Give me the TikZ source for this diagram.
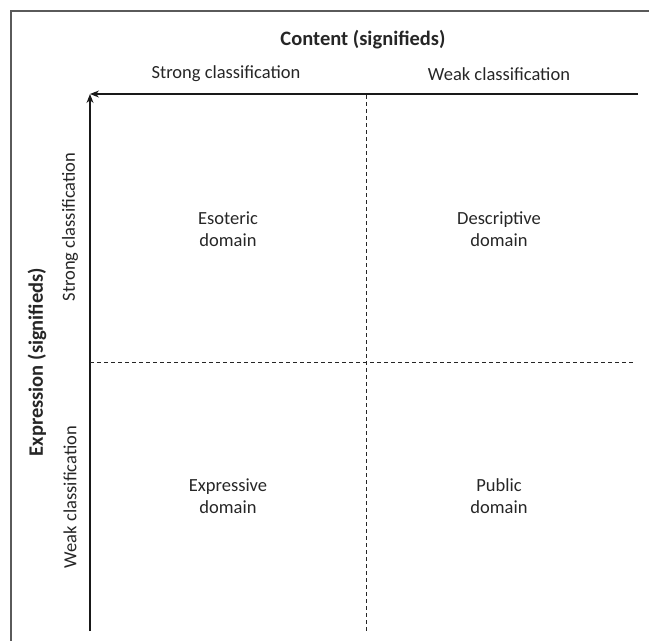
\documentclass[tikz,border=0pt]{standalone}
\usepackage{fontspec}
\setmainfont{Carlito}
\usetikzlibrary{arrows.meta}
\definecolor{txt}{HTML}{262626}
\definecolor{framegray}{HTML}{5A5A5A}
\tikzset{
  label/.style={text=txt, font=\fontsize{18.5}{21.5}\selectfont, align=center, inner sep=0pt},
  title/.style={label, font=\fontsize{20.5}{24}\selectfont\bfseries},
  axis/.style={line width=1.2pt, draw=black!90, -{Stealth[length=9pt,width=7pt]}},
  divider/.style={line width=0.9pt, draw=black!85, dash pattern=on 4pt off 3pt},
  frameline/.style={line width=1.4pt, draw=framegray}
}
\begin{document}
\begin{tikzpicture}[x=1pt, y=-1pt]
  \useasboundingbox (0,0) rectangle (649,641);
  % outer frame (top and left edges)
  \coordinate (fTL) at (11,11);
  \coordinate (fTR) at (649,11);
  \coordinate (fBL) at (11,641);
  \draw[frameline] (fTR) -- (fTL) -- (fBL);

  % axes
  \coordinate (origin) at (90,94);
  \coordinate (xend) at (638,94);
  \coordinate (yend) at (90,631);
  \draw[axis] (xend) -- (origin);
  \draw[axis] (yend) -- (origin);

  % quadrant dividers
  \coordinate (vTop) at (366,95);
  \coordinate (vBot) at (366,631);
  \coordinate (hLeft) at (90,362);
  \coordinate (hRight) at (634,362);
  \draw[divider] (vTop) -- (vBot);
  \draw[divider] (hLeft) -- (hRight);

  % column headings
  \node[title] (content) at (363,40) {Content (signifieds)};
  \node[label] (cstrong) at (226,74) {Strong classification};
  \node[label] (cweak) at (499,74) {Weak classification};

  % row headings
  \node[title, rotate=90] (expression) at (37,362) {Expression (signifieds)};
  \node[label, rotate=90] (rstrong) at (70,227) {Strong classification};
  \node[label, rotate=90] (rweak) at (70,497) {Weak classification};

  % quadrants
  \node[label] (esoteric) at (228,229) {Esoteric\\domain};
  \node[label] (descriptive) at (499,229) {Descriptive\\domain};
  \node[label] (expressive) at (228,496) {Expressive\\domain};
  \node[label] (public) at (499,496) {Public\\domain};
\end{tikzpicture}
\end{document}
